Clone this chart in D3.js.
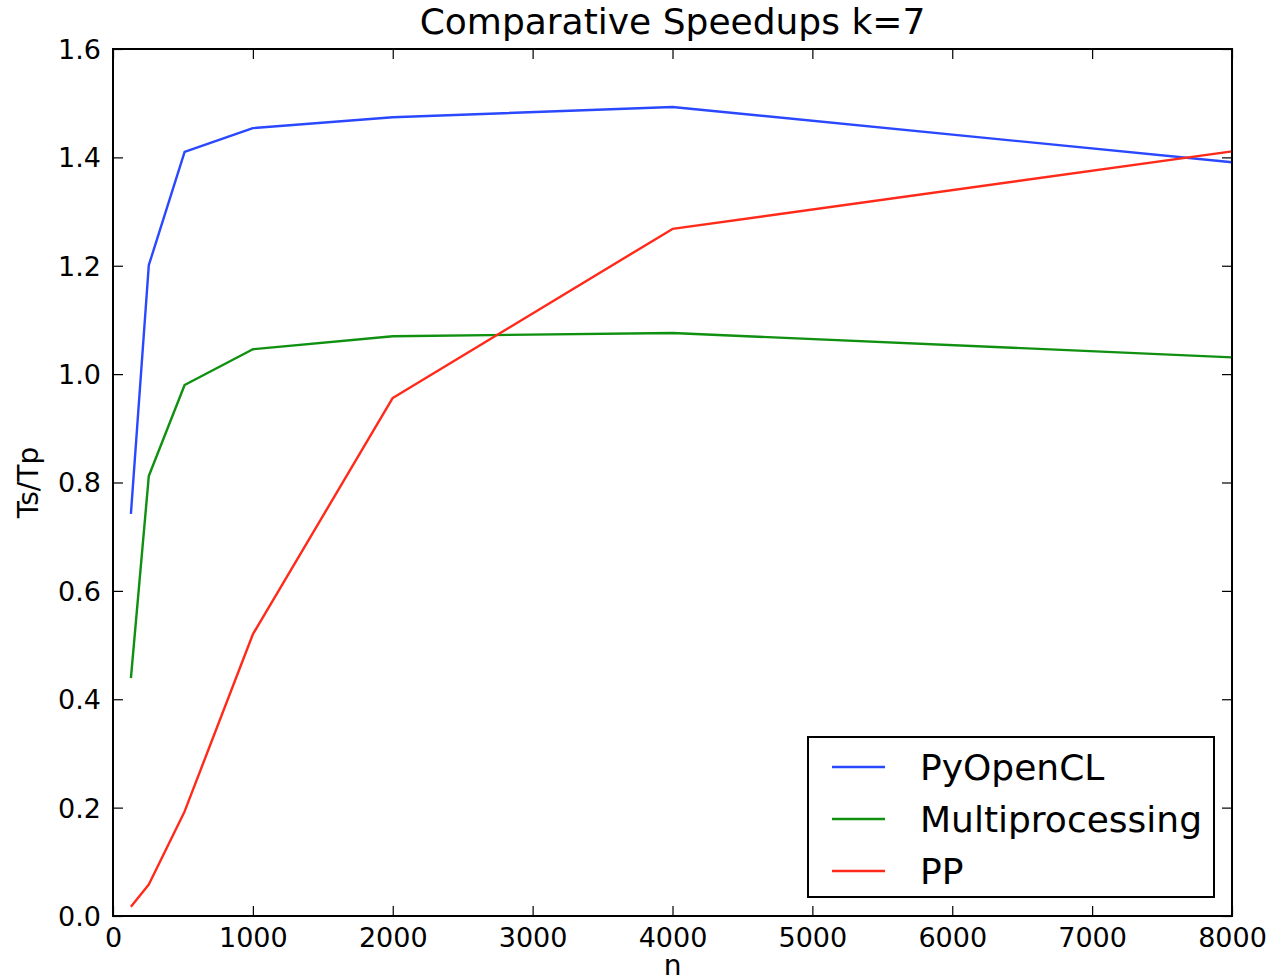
<!DOCTYPE html>
<html><head><meta charset="utf-8">
<script src="https://cdn.jsdelivr.net/npm/d3@7"></script>
<style>body{margin:0;background:#fff}svg{display:block}text{font-family:"DejaVu Sans",sans-serif;fill:#000}</style>
</head><body>
<svg id="c" width="1272" height="977"></svg>
<script>
const nValues = [128, 256, 512, 1000, 2000, 4000, 8000];
const pyopencl = [0.742, 1.201, 1.410, 1.454, 1.474, 1.493, 1.391];
const multiprocessing = [0.439, 0.812, 0.980, 1.046, 1.070, 1.076, 1.031];
const pp = [0.017, 0.058, 0.193, 0.520, 0.956, 1.268, 1.411];
const seriesNames = ["PyOpenCL", "Multiprocessing", "PP"];
const seriesColors = ["#2a48ff", "#109010", "#ff2a1a"];
const xTicks = [0,1000,2000,3000,4000,5000,6000,7000,8000];
const yTicks = [0.0,0.2,0.4,0.6,0.8,1.0,1.2,1.4,1.6];

const svg = d3.select("#c");
const L=113, R=1232, T=49, B=916;
const x = d3.scaleLinear().domain([0,8000]).range([L,R]);
const y = d3.scaleLinear().domain([0,1.6]).range([B,T]);

const series = [pyopencl, multiprocessing, pp];
const line = d3.line().x((d,i)=>x(nValues[i])).y(d=>y(d));
const plot = svg.append("g");
series.forEach((s,k)=>{
  plot.append("path").attr("d", line(s)).attr("fill","none")
    .attr("stroke", seriesColors[k]).attr("stroke-width",2.4).attr("stroke-linejoin","round");
});

// axes
const tl = 10;
const gBottom = svg.append("g").attr("transform",`translate(0,${B})`)
  .call(d3.axisBottom(x).tickValues(xTicks).tickSize(-tl).tickPadding(8).tickFormat(d3.format("d")));
const gTop = svg.append("g").attr("transform",`translate(0,${T})`)
  .call(d3.axisTop(x).tickValues(xTicks).tickSize(-tl).tickFormat(""));
const gLeft = svg.append("g").attr("transform",`translate(${L},0)`)
  .call(d3.axisLeft(y).tickValues(yTicks).tickSize(-tl).tickPadding(12).tickFormat(d3.format(".1f")));
const gRight = svg.append("g").attr("transform",`translate(${R},0)`)
  .call(d3.axisRight(y).tickValues(yTicks).tickSize(-tl).tickFormat(""));
[gBottom,gTop,gLeft,gRight].forEach(g=>{
  g.select(".domain").remove();
  g.selectAll(".tick line").attr("stroke","#000").attr("stroke-width",1.2);
  g.selectAll("text").style("font-size","27px").attr("font-family","DejaVu Sans");
});
gBottom.selectAll("text").attr("dy","0.86em");
gLeft.selectAll("text").attr("dy","0.35em");

svg.append("rect").attr("x",L).attr("y",T).attr("width",R-L).attr("height",B-T)
  .attr("fill","none").attr("stroke","#000").attr("stroke-width",2);

svg.append("text").attr("x",(L+R)/2).attr("y",34).attr("text-anchor","middle")
  .style("font-size","36px").text("Comparative Speedups k=7");
svg.append("text").attr("x",(L+R)/2).attr("y",975).attr("text-anchor","middle")
  .style("font-size","28px").text("n");
svg.append("text").attr("transform",`translate(38,${(T+B)/2}) rotate(-90)`).attr("text-anchor","middle")
  .style("font-size","28px").text("Ts/Tp");

// legend
const lg = svg.append("g");
lg.append("rect").attr("x",808).attr("y",737).attr("width",406).attr("height",160)
  .attr("fill","#fff").attr("stroke","#000").attr("stroke-width",2);
const rowY = [767, 819, 871];
seriesNames.forEach((nm,k)=>{
  lg.append("line").attr("x1",832).attr("x2",885).attr("y1",rowY[k]).attr("y2",rowY[k])
    .attr("stroke",seriesColors[k]).attr("stroke-width",2.4);
  lg.append("text").attr("x",920).attr("y",rowY[k]).attr("dy","0.36em")
    .style("font-size","36px").text(nm);
});
</script>
</body></html>
